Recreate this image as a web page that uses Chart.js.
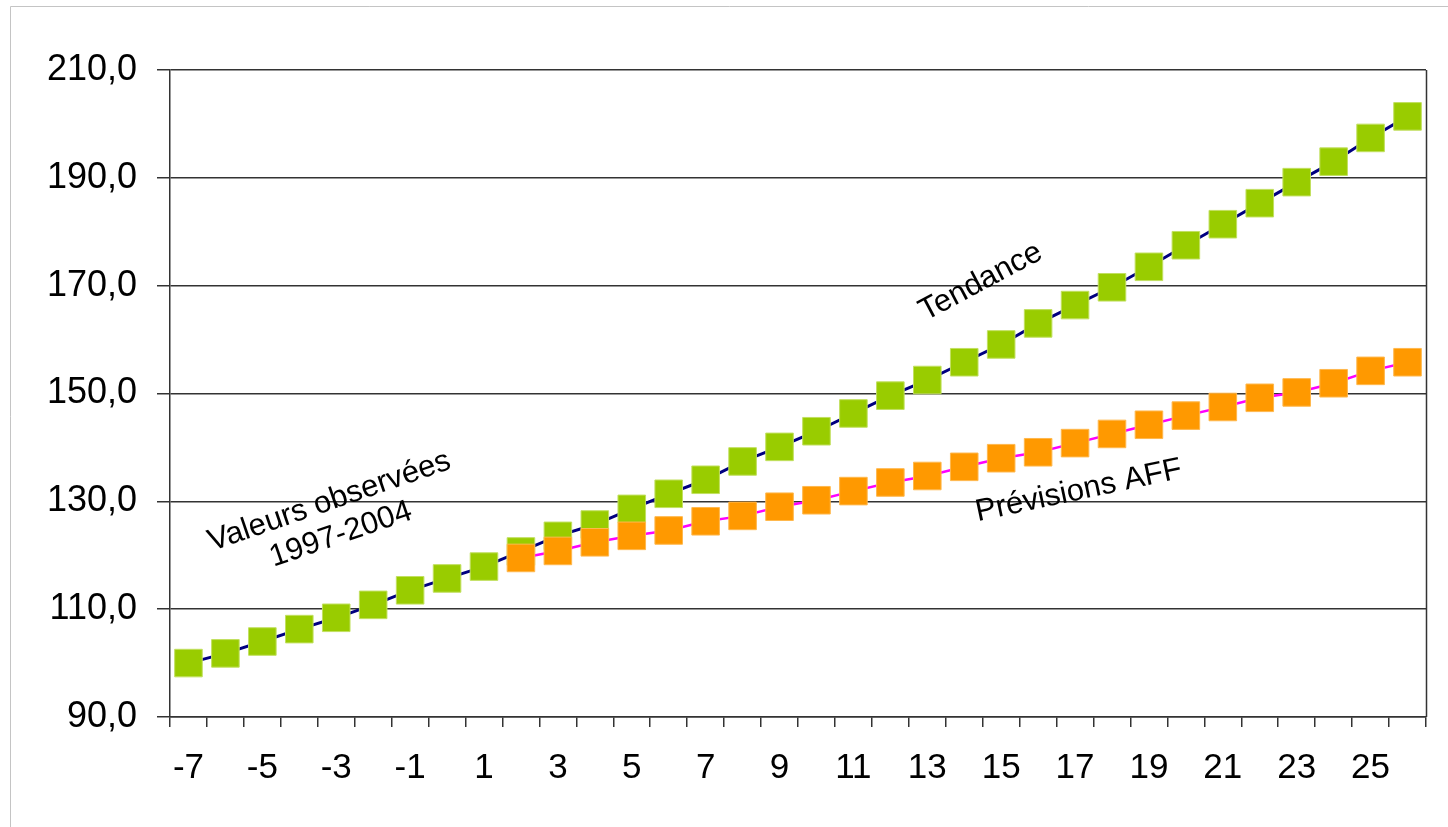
<!DOCTYPE html>
<html>
<head>
<meta charset="utf-8">
<script src="https://cdn.jsdelivr.net/npm/chart.js@4.4.1/dist/chart.umd.min.js"></script>
<style>
  html, body { margin: 0; padding: 0; background: #fff; }
  #wrap { width: 1448px; height: 827px; position: relative; }
</style>
</head>
<body>
<div id="wrap"><canvas id="chartTendance"></canvas></div>
<script>
// categories (années relatives) et séries
const categories = ['-7', '-6', '-5', '-4', '-3', '-2', '-1', '0', '1', '2', '3', '4', '5', '6', '7', '8', '9',
  '10', '11', '12', '13', '14', '15', '16', '17', '18', '19', '20', '21', '22', '23', '24', '25', '26'];

const tendance = [100.0, 101.8, 104.0, 106.3, 108.4, 110.8, 113.5, 115.7, 117.9, 120.7, 123.6, 125.7, 128.6,
  131.4, 134.0, 137.4, 140.1, 143.0, 146.3, 149.6, 152.5, 155.8, 159.1, 163.0, 166.4, 169.7, 173.5,
  177.5, 181.4, 185.3, 189.2, 193.0, 197.4, 201.4];

const previsions = [null, null, null, null, null, null, null, null, null, 119.5, 120.8, 122.4, 123.6,
  124.6, 126.3, 127.3, 129.0, 130.2, 131.9, 133.5, 134.7, 136.4, 138.0, 139.1, 140.8, 142.5, 144.2,
  145.9, 147.5, 149.2, 150.2, 151.9, 154.2, 155.8];

const yMin = 90, yMax = 210, yStep = 20;

// textes inclinés posés sur le graphique (index de catégorie, valeur, angle)
const notes = [
  { lines: ['Valeurs observées', '1997-2004'], at: 3.97, val: 126.9, angle: -19 },
  { lines: ['Tendance'], at: 21.45, val: 170.7, angle: -28 },
  { lines: ['Prévisions AFF'], at: 24.1, val: 131.9, angle: -12 }
];

const FONT = '"Liberation Sans", Arial, sans-serif';

const framePlugin = {
  id: 'frame',
  beforeDraw(chart) {
    const ctx = chart.ctx;
    ctx.save();
    ctx.strokeStyle = '#c4c4c4';
    ctx.lineWidth = 1;
    ctx.beginPath();
    ctx.moveTo(10.5, chart.height);
    ctx.lineTo(10.5, 6.5);
    ctx.lineTo(chart.width, 6.5);
    ctx.stroke();
    ctx.restore();
  },
  beforeDatasetsDraw(chart) {
    const a = chart.chartArea, ctx = chart.ctx;
    ctx.save();
    ctx.strokeStyle = '#333';
    ctx.lineWidth = 1.5;
    ctx.beginPath();
    ctx.moveTo(Math.round(a.right) + 0.5, a.top);
    ctx.lineTo(Math.round(a.right) + 0.5, a.bottom);
    ctx.stroke();
    ctx.restore();
  }
};

const notesPlugin = {
  id: 'notes',
  afterDraw(chart) {
    const ctx = chart.ctx, x = chart.scales.x, y = chart.scales.y;
    notes.forEach(n => {
      ctx.save();
      ctx.translate(x.getPixelForValue(n.at), y.getPixelForValue(n.val));
      ctx.rotate(n.angle * Math.PI / 180);
      ctx.font = '31px ' + FONT;
      ctx.fillStyle = '#000';
      ctx.textAlign = 'center';
      ctx.textBaseline = 'middle';
      n.lines.forEach((t, i) => ctx.fillText(t, 0, (i - (n.lines.length - 1) / 2) * 35));
      ctx.restore();
    });
  }
};

new Chart(document.getElementById('chartTendance').getContext('2d'), {
  type: 'line',
  data: {
    labels: categories,
    datasets: [{
      label: 'Prévisions AFF',
      data: previsions,
      borderColor: '#ff00ff',
      borderWidth: 2.5,
      pointStyle: 'rect',
      pointRadius: 19.5,
      pointHoverRadius: 19.5,
      pointBackgroundColor: '#ff9900',
      pointBorderColor: '#ffb84d',
      pointBorderWidth: 1,
      order: 0
    }, {
      label: 'Tendance',
      data: tendance,
      borderColor: '#000080',
      borderWidth: 3,
      pointStyle: 'rect',
      pointRadius: 19.5,
      pointHoverRadius: 19.5,
      pointBackgroundColor: '#99cc00',
      pointBorderColor: '#c2e060',
      pointBorderWidth: 1,
      order: 1
    }]
  },
  options: {
    responsive: true,
    maintainAspectRatio: false,
    animation: false,
    layout: { padding: { left: 10, top: 70, right: 22, bottom: 0 } },
    plugins: { legend: { display: false }, tooltip: { enabled: false } },
    scales: {
      x: {
        offset: true,
        afterFit(scale) { scale.height = 110; },
        grid: { offset: true, drawOnChartArea: false, drawTicks: true, tickLength: 10, color: '#333', lineWidth: 1.5 },
        border: { color: '#333', width: 1.5 },
        ticks: {
          autoSkip: false,
          maxRotation: 0,
          padding: 20,
          color: '#000',
          font: { family: FONT, size: 35 },
          callback: (v, i) => (i % 2 === 0 ? categories[i] : '')
        }
      },
      y: {
        min: yMin,
        max: yMax,
        afterFit(scale) { scale.width = 160; },
        grid: { color: '#333', lineWidth: 1.5, drawTicks: true, tickLength: 13 },
        border: { color: '#333', width: 1.5 },
        ticks: {
          stepSize: yStep,
          padding: 20,
          color: '#000',
          font: { family: FONT, size: 36 },
          callback: v => v.toFixed(1).replace('.', ',')
        }
      }
    }
  },
  plugins: [framePlugin, notesPlugin]
});
</script>
</body>
</html>
